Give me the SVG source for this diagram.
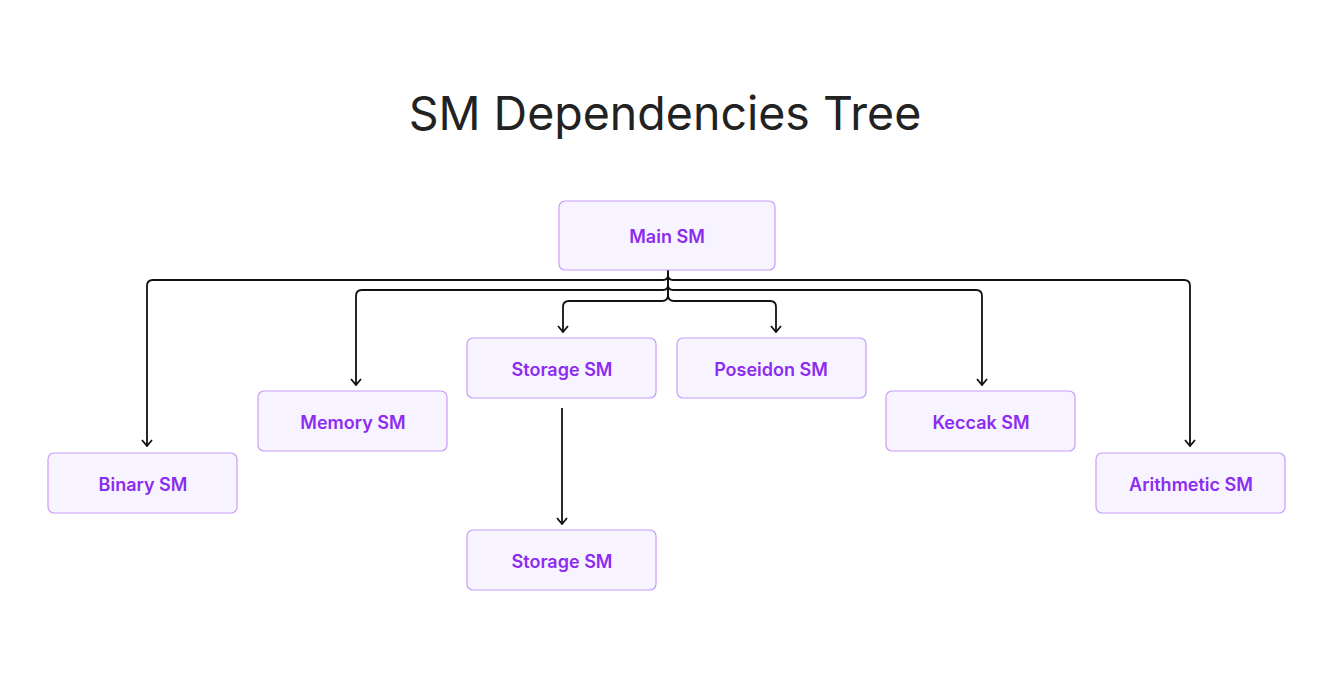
<svg xmlns="http://www.w3.org/2000/svg" width="1323" height="684" viewBox="0 0 1323 684">
<style>
.box{fill:#f8f4ff;stroke:#c89cfb;stroke-width:1.2}
.lbl{font-family:Inter,"Noto Sans",sans-serif;font-size:18px;font-weight:600;fill:#8b2cf0;text-anchor:middle;dominant-baseline:central}
.c{fill:none;stroke:#111;stroke-width:1.8;marker-end:url(#ah)}
.title{font-family:Inter,"Noto Sans",sans-serif;font-size:46.5px;fill:#222;text-anchor:middle}
</style>
<defs>
<marker id="ah" viewBox="0 0 8 12" refX="7" refY="6" markerWidth="8" markerHeight="12" markerUnits="userSpaceOnUse" orient="auto">
<polyline points="1,1 7,6 1,11" fill="none" stroke="#111" stroke-width="1.8"/>
</marker>
</defs>
<rect width="1323" height="684" fill="#fff"/>
<text class="title" x="665" y="130">SM Dependencies Tree</text>
<g id="connectors">
<path class="c" d="M668,270 V275 Q668,280 663,280 H153 Q147,280 147,286 V446"/>
<path class="c" d="M668,270 V275 Q668,280 673,280 H1184 Q1190,280 1190,286 V446"/>
<path class="c" d="M668,270 V285 Q668,290 663,290 H362 Q356,290 356,296 V385"/>
<path class="c" d="M668,270 V285 Q668,290 673,290 H976 Q982,290 982,296 V385"/>
<path class="c" d="M668,270 V295 Q668,301 662,301 H569 Q563,301 563,307 V332"/>
<path class="c" d="M668,270 V295 Q668,301 674,301 H770 Q776,301 776,307 V332"/>
<path class="c" d="M562,408 V524"/>
</g>
<g id="main"><rect class="box" x="559" y="201" width="216" height="69" rx="6"/><text class="lbl" x="667" y="236">Main SM</text></g>
<g id="binary"><rect class="box" x="48" y="453" width="189" height="60" rx="6"/><text class="lbl" x="143" y="484">Binary SM</text></g>
<g id="memory"><rect class="box" x="258" y="391" width="189" height="60" rx="6"/><text class="lbl" x="353" y="422">Memory SM</text></g>
<g id="storage"><rect class="box" x="467" y="338" width="189" height="60" rx="6"/><text class="lbl" x="562" y="369">Storage SM</text></g>
<g id="poseidon"><rect class="box" x="677" y="338" width="189" height="60" rx="6"/><text class="lbl" x="771" y="369">Poseidon SM</text></g>
<g id="keccak"><rect class="box" x="886" y="391" width="189" height="60" rx="6"/><text class="lbl" x="981" y="422">Keccak SM</text></g>
<g id="arithmetic"><rect class="box" x="1096" y="453" width="189" height="60" rx="6"/><text class="lbl" x="1191" y="484">Arithmetic SM</text></g>
<g id="storage2"><rect class="box" x="467" y="530" width="189" height="60" rx="6"/><text class="lbl" x="562" y="561">Storage SM</text></g>
</svg>
